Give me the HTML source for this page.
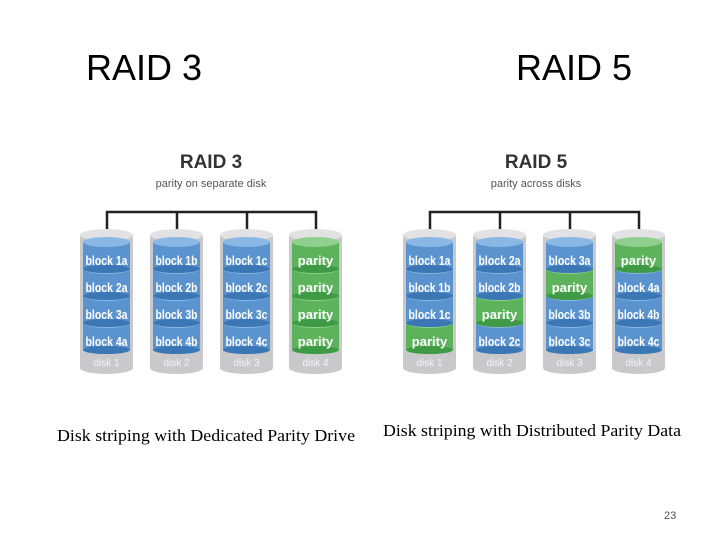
<!DOCTYPE html>
<html><head><meta charset="utf-8"><style>
html,body{margin:0;padding:0;background:#fff;}
svg{display:block}
</style></head><body>
<svg width="720" height="540" xmlns="http://www.w3.org/2000/svg" font-family="Liberation Sans, sans-serif">
<text x="86" y="80" font-size="36" fill="#000">RAID 3</text>
<text x="516" y="80" font-size="36" fill="#000">RAID 5</text>
<text x="211" y="168" font-size="19" font-weight="bold" fill="#333" text-anchor="middle">RAID 3</text>
<text x="211" y="187" font-size="11" fill="#555" text-anchor="middle">parity on separate disk</text>
<text x="536" y="168" font-size="19" font-weight="bold" fill="#333" text-anchor="middle">RAID 5</text>
<text x="536" y="187" font-size="11" fill="#555" text-anchor="middle">parity across disks</text>
<g stroke="#222" stroke-width="2.5" fill="none">
<path d="M107 242 V212 H316 V242 M177 212 V242 M247 212 V242"/>
<path d="M430 242 V212 H639 V242 M500 212 V242 M570 212 V242"/>
</g>
<g id="disks" font-size="13" font-weight="bold" fill="#fff"></g>
<text x="57" y="441" font-family="Liberation Serif, serif" font-size="17" fill="#000" textLength="298" lengthAdjust="spacingAndGlyphs">Disk striping with Dedicated Parity Drive</text>
<text x="383" y="436" font-family="Liberation Serif, serif" font-size="17" fill="#000" textLength="298" lengthAdjust="spacingAndGlyphs">Disk striping with Distributed Parity Data</text>
<text x="664" y="519" font-size="11" fill="#555">23</text>
<script>
var g=document.getElementById('disks');var ns='http://www.w3.org/2000/svg';
function el(t,a,txt){var e=document.createElementNS(ns,t);for(var k in a)e.setAttribute(k,a[k]);if(txt)e.textContent=txt;g.appendChild(e);return e;}
var r3=[["block 1a","block 2a","block 3a","block 4a"],["block 1b","block 2b","block 3b","block 4b"],["block 1c","block 2c","block 3c","block 4c"],["parity","parity","parity","parity"]];
var r5=[["block 1a","block 1b","block 1c","parity"],["block 2a","block 2b","parity","block 2c"],["block 3a","parity","block 3b","block 3c"],["parity","block 4a","block 4b","block 4c"]];
function disk(x,labels,n){
 el('rect',{x:x,y:235,width:53,height:133,fill:'#c9c9cb'});
 el('ellipse',{cx:x+26.5,cy:368,rx:26.5,ry:6,fill:'#c9c9cb'});
 el('ellipse',{cx:x+26.5,cy:235,rx:26.5,ry:6,fill:'#e2e2e4'});
 for(var i=3;i>=0;i--){var y=242+27*i;var p=labels[i]=='parity';
  var c=p?'#5cb35c':'#5b93cf',d=p?'#3f9a45':'#3c77b5',l=p?'#8fd08f':'#8ab7e3';
  el('rect',{x:x+3,y:y,width:47,height:27,fill:c});
  el('ellipse',{cx:x+26.5,cy:y+27,rx:23.5,ry:4,fill:d});
  el('ellipse',{cx:x+26.5,cy:y,rx:23.5,ry:5,fill:l});
  var a={x:x+26.5,y:y+23,'text-anchor':'middle'};
  if(!p){a.textLength='42';a.lengthAdjust='spacingAndGlyphs';}
  el('text',a,labels[i]);}
 el('text',{x:x+26.5,y:366,'text-anchor':'middle','font-size':'10','font-weight':'normal',fill:'#f4f4f4'},'disk '+n);
}
var x3=[80,150,220,289],x5=[403,473,543,612];
for(var i=0;i<4;i++){disk(x3[i],r3[i],i+1);disk(x5[i],r5[i],i+1);}
</script>
</svg>
</body></html>
